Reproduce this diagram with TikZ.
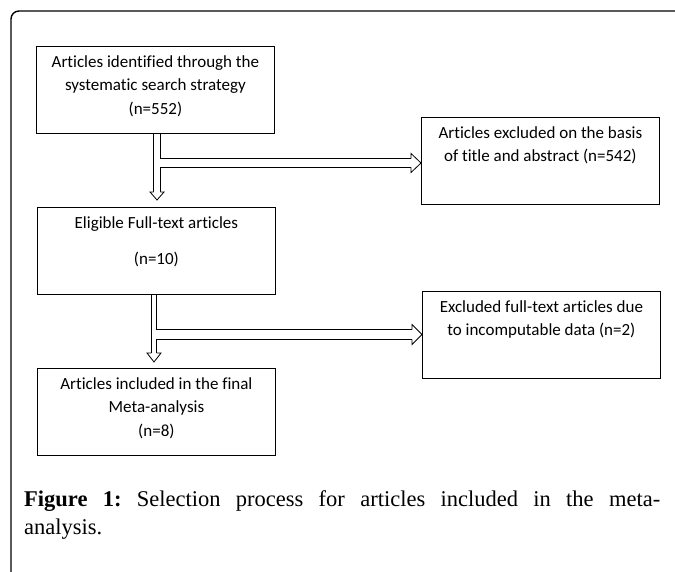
\documentclass[tikz,border=0pt]{standalone}
\usepackage{fontspec}
\setmainfont{Liberation Serif}
\newfontfamily\boxfont[Ligatures=NoCommon]{Carlito}
\usetikzlibrary{positioning}

\newcommand{\stagetext}[1]{\parbox[c][87pt][t]{238pt}{\centering\vspace*{9pt}#1}}

\tikzset{stage/.style={draw, line width=0.8pt, inner sep=0pt, anchor=north west,
                       font=\boxfont\fontsize{17}{23.5}\selectfont}}
\tikzset{flow/.style={double, double distance=#1, line width=0.8pt},
         flow/.default=6pt}
\tikzset{head/.style={fill=white, line width=0.8pt, line join=miter}}
\tikzset{caption/.style={anchor=base west, inner sep=0pt, text width=636pt, align=justify,
                         font=\frenchspacing\fontsize{22.5}{28}\selectfont}}

\begin{document}
\begin{tikzpicture}[x=1pt, y=-1pt]
    \useasboundingbox (0,0) rectangle (675,572);
    % outer frame, open at right and bottom
    \draw [line width=1.4pt, rounded corners=8pt] (11,573) -- (11,11) -- (676,11);

    \node [stage] (found) at (36,46)
        {\stagetext{Articles identified through the\\systematic search strategy\\(n=552)}};
    \node [stage] (title) at (421,117)
        {\stagetext{Articles excluded on the basis\\of title and abstract (n=542)}};
    \node [stage] (full) at (37,207)
        {\stagetext{Eligible Full-text articles\\[12.5pt](n=10)}};
    \node [stage] (nodata) at (422,291)
        {\stagetext{Excluded full-text articles due\\to incomputable data (n=2)}};
    \node [stage] (final) at (37,368)
        {\stagetext{Articles included in the final\\Meta-analysis\\(n=8)}};

    \coordinate (split1) at (157,163);
    \coordinate (down1) at (157,200);
    \coordinate (tip1) at (split1 -| title.west);
    \coordinate (split2) at (154,334.5);
    \coordinate (down2) at (154,362);
    \coordinate (tip2) at (split2 -| nodata.west);

    % first stage
    \draw [flow=6pt] (found.south -| down1) -- ([yshift=8pt]down1);
    \filldraw [head] ([shift={(-3.4,-8)}]down1) -- ([shift={(-7,-8)}]down1) -- (down1)
        -- ([shift={(7,-8)}]down1) -- ([shift={(3.4,-8)}]down1);
    \draw [flow=8pt] ([xshift=3pt]split1) -- ([xshift=-10pt]tip1);
    \filldraw [head] ([shift={(-10,-4.4)}]tip1) -- ([shift={(-10,-9.5)}]tip1) -- (tip1)
        -- ([shift={(-10,9.5)}]tip1) -- ([shift={(-10,4.4)}]tip1);

    % second stage
    \draw [flow=4.5pt] (full.south -| down2) -- ([yshift=9pt]down2);
    \filldraw [head] ([shift={(-2.65,-9)}]down2) -- ([shift={(-7,-9)}]down2) -- (down2)
        -- ([shift={(7,-9)}]down2) -- ([shift={(2.65,-9)}]down2);
    \draw [flow=9pt] ([xshift=2.25pt]split2) -- ([xshift=-10pt]tip2);
    \filldraw [head] ([shift={(-10,-4.9)}]tip2) -- ([shift={(-10,-10)}]tip2) -- (tip2)
        -- ([shift={(-10,10)}]tip2) -- ([shift={(-10,4.9)}]tip2);

    \node [caption] (cap) at (24,506)
        {\textbf{Figure 1:} Selection process for articles included in the meta-\linebreak analysis.};
\end{tikzpicture}
\end{document}
